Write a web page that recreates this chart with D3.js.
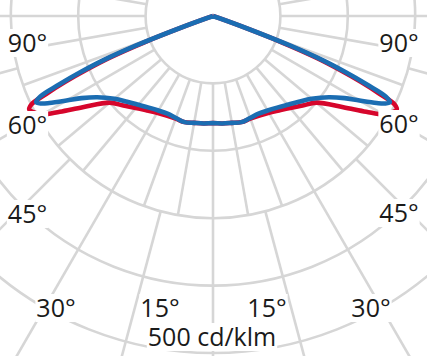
<!DOCTYPE html>
<html>
<head>
<meta charset="utf-8">
<script src="https://cdn.jsdelivr.net/npm/d3@7"></script>
<style>
  html, body { margin: 0; padding: 0; background: #fff; }
  svg { display: block; }
</style>
</head>
<body>
<svg id="ldc" width="427" height="356"></svg>
<script>
// polar angle from nadir (deg) and intensities in cd/klm, one half, mirrored
const angleDeg = [0, 5, 10, 15, 20, 25, 30, 35, 40, 45, 50, 55, 58, 60, 62, 63, 64, 65, 66, 67, 68, 69, 70, 71, 72, 90];
const planeC0 = [159, 160, 161, 163, 162, 163, 166, 171, 178, 188, 200, 236, 268, 292, 303, 306, 300, 272, 240, 204, 166, 110, 40, 2, 0, 0];
const planeC90 = [159, 160, 161, 163, 161, 160, 162, 166, 172, 180, 191, 210, 230, 251, 275, 286, 292, 283, 250, 214, 176, 122, 52, 8, 0, 0];

const rings = [100, 200, 300, 400, 500, 600];
const angleLabels = ["90°", "60°", "45°", "30°", "15°"];
const unitLabel = "500 cd/klm";

const width = 427, height = 356;
const cx = 213, cy = 16;
const r = d3.scaleLinear([0, 100], [0, 67.4]);
const rad = d => d * Math.PI / 180;

const svg = d3.select("#ldc");
const g = svg.append("g").attr("transform", `translate(${cx},${cy})`);

const grid = g.append("g")
  .attr("fill", "none")
  .attr("stroke", "#d6d6d6")
  .attr("stroke-width", 2.6);

grid.selectAll("circle")
  .data(rings)
  .join("circle")
  .attr("r", d => r(d));

// fine spokes in the inner rings, coarse ones outside
const spoke = (a, r0, r1) => {
  const t = rad(a);
  return [[-Math.sin(t) * r(r0), Math.cos(t) * r(r0)], [-Math.sin(t) * r(r1), Math.cos(t) * r(r1)]];
};
grid.selectAll(".inner")
  .data(d3.range(0, 360, 10))
  .join("path")
  .attr("class", "inner")
  .attr("d", a => d3.line()(spoke(a, 100, 300)));
grid.selectAll(".outer")
  .data(d3.range(0, 360, 15))
  .join("path")
  .attr("class", "outer")
  .attr("d", a => d3.line()(spoke(a, 300, 700)));

// closed curve: right half from 90 to 0, then left half 0 to 90
const curvePoints = values => {
  const right = angleDeg.map((a, i) => [Math.PI - rad(a), r(values[i])]).reverse();
  const left = angleDeg.slice(1).map((a, i) => [Math.PI + rad(a), r(values[i + 1])]);
  return right.concat(left);
};
const radial = d3.lineRadial()
  .angle(d => d[0])
  .radius(d => d[1])
  .curve(d3.curveCatmullRom.alpha(0.5));

g.append("path")
  .attr("d", radial(curvePoints(planeC0)))
  .attr("fill", "none")
  .attr("stroke", "#d6062c")
  .attr("stroke-width", 4.6)
  .attr("stroke-linejoin", "round");
g.append("path")
  .attr("d", radial(curvePoints(planeC90)))
  .attr("fill", "none")
  .attr("stroke", "#1b6db2")
  .attr("stroke-width", 4.6)
  .attr("stroke-linejoin", "round");

// labels
const labelPos = {
  left: [[27.5, 52], [27.5, 134], [27.5, 223], [56, 317], [160, 317]],
  right: [[399, 52], [399, 133], [399, 222], [371, 317], [267, 317]]
};
const labels = [];
angleLabels.forEach((t, i) => {
  labels.push({ text: t, x: labelPos.left[i][0], y: labelPos.left[i][1] });
  labels.push({ text: t, x: labelPos.right[i][0], y: labelPos.right[i][1] });
});
labels.push({ text: unitLabel, x: 212, y: 346 });

const lg = svg.append("g")
  .attr("font-family", "'Open Sans', sans-serif")
  .attr("font-size", 25)
  .attr("fill", "#1a1a1a")
  .attr("text-anchor", "middle");

const items = lg.selectAll("g")
  .data(labels)
  .join("g");
const texts = items.append("text")
  .attr("x", d => d.x)
  .attr("y", d => d.y)
  .text(d => d.text);
texts.each(function() {
  const b = this.getBBox();
  d3.select(this.parentNode).insert("rect", "text")
    .attr("x", b.x - 1)
    .attr("y", b.y + 4)
    .attr("width", b.width + 2)
    .attr("height", b.height - 6)
    .attr("fill", "#fff");
});
</script>
</body>
</html>
